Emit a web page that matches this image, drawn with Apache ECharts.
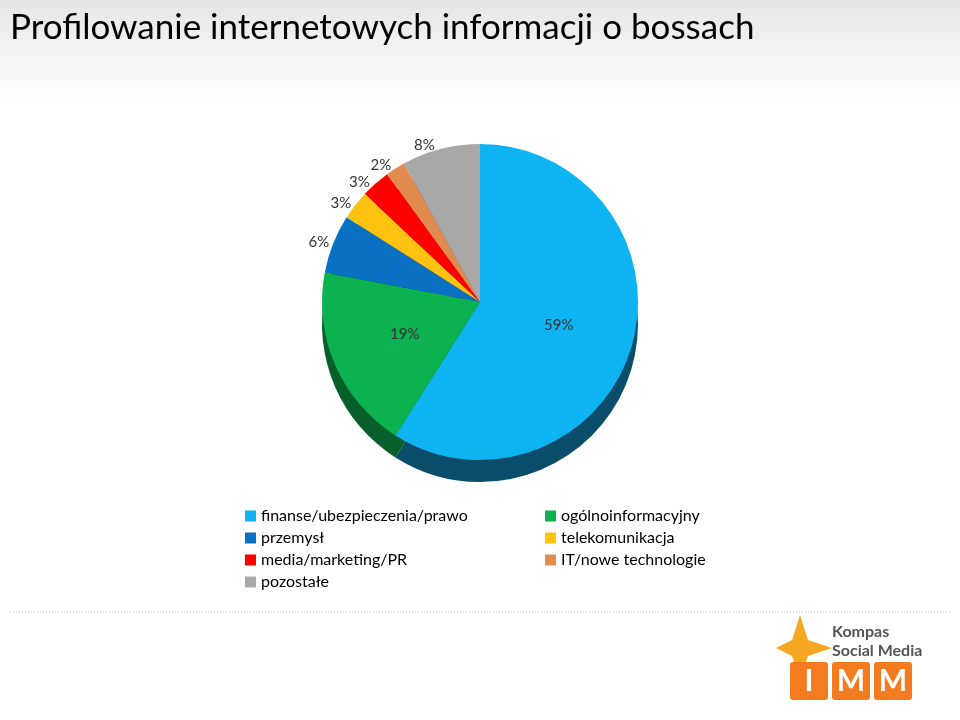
<!DOCTYPE html>
<html><head><meta charset="utf-8">
<script src="https://cdn.jsdelivr.net/npm/echarts@6/dist/echarts.min.js"></script>
<style>html,body{margin:0;padding:0;background:#fff}#c{width:960px;height:720px}</style>
</head><body><div id="c"></div>
<script>
const categories = ['finanse/ubezpieczenia/prawo', 'ogólnoinformacyjny', 'przemysł', 'telekomunikacja', 'media/marketing/PR', 'IT/nowe technologie', 'pozostałe']
const values = [59, 19, 6, 3, 3, 2, 8]
const colors = ['#0EB4F2', '#0BB24F', '#0A70C2', '#FFC20E', '#FF0000', '#E38A4E', '#A8A8A8']
const darkColors = ['#0A4D6A', '#07602B', '#063C69', '#8A6A08', '#8A0000', '#7A4A2A', '#5A5A5A']
const leftLegend = ['finanse/ubezpieczenia/prawo', 'przemysł', 'media/marketing/PR', 'pozostałe']
const rightLegend = ['ogólnoinformacyjny', 'telekomunikacja', 'IT/nowe technologie']

const chart = echarts.init(document.getElementById('c'))
const font = 'Lato, "Open Sans", sans-serif'
const colorOf = n => colors[categories.indexOf(n)]

const topData = categories.map((n, i) => ({
  name: n, value: values[i], itemStyle: { color: colors[i] },
  label: i < 2
    ? { position: 'inside', fontSize: 15, color: '#333' }
    : { position: 'outside', fontSize: 15, color: '#333' },
  labelLine: { show: false }
}))
const baseData = categories.map((n, i) => ({ name: 'base ' + n, value: values[i], itemStyle: { color: darkColors[i] } }))
const legendItems = list => list.map(n => ({ name: n, itemStyle: { color: colorOf(n) } }))

chart.setOption({
  animation: false,
  graphic: [
    { type: 'rect', z: -10, shape: { x: 0, y: 0, width: 960, height: 100 },
      style: { fill: new echarts.graphic.LinearGradient(0, 0, 0, 1, [{ offset: 0, color: '#e6e6e6' }, { offset: 1, color: '#ffffff' }]) } },
    { type: 'text', left: 10, top: 10, style: { text: 'Profilowanie internetowych informacji o bossach', fontSize: 35, fontFamily: font, fill: '#000' } },
    { type: 'line', shape: { x1: 10, y1: 612, x2: 950, y2: 612 }, style: { stroke: '#bbb', lineDash: [1, 2], lineWidth: 1 } },
    { type: 'text', left: 832, top: 622, style: { text: 'Kompas\nSocial Media', fontSize: 16, fontWeight: 'bold', fontFamily: font, fill: '#555', lineHeight: 19 } },
    { type: 'polygon', shape: { points: [[800, 615], [808, 640], [832, 648], [808, 656], [800, 680], [792, 656], [776, 648], [792, 640]] }, style: { fill: '#F7A823' } },
    ...['I', 'M', 'M'].map((t, i) => ({ type: 'group', left: 790 + i * 42, top: 662, children: [
      { type: 'rect', shape: { x: 0, y: 0, width: 38, height: 38, r: 3 }, style: { fill: '#F47B20' } },
      { type: 'text', style: { text: t, x: 19, y: 19, align: 'center', verticalAlign: 'middle', fontSize: 30, fontWeight: 'bold', fill: '#fff', fontFamily: font } }
    ] }))
  ],
  legend: [
    { data: legendItems(leftLegend), orient: 'vertical', left: 240, top: 503, itemWidth: 11, itemHeight: 11, itemGap: 6, icon: 'rect',
      textStyle: { fontSize: 16, fontFamily: font, color: '#000' } },
    { data: legendItems(rightLegend), orient: 'vertical', left: 540, top: 503, itemWidth: 11, itemHeight: 11, itemGap: 6, icon: 'rect',
      textStyle: { fontSize: 16, fontFamily: font, color: '#000' } }
  ],
  series: [
    { type: 'pie', center: [480, 324], radius: 158, startAngle: 90, clockwise: true, silent: true,
      data: baseData, label: { show: false }, z: 1, legendHoverLink: false },
    { type: 'pie', center: [480, 302], radius: 158, startAngle: 90, clockwise: true,
      data: topData, z: 2,
      label: { formatter: '{c}%', fontFamily: font },
      labelLine: { show: false, length: 4, length2: 0 } }
  ]
})
</script></body></html>
